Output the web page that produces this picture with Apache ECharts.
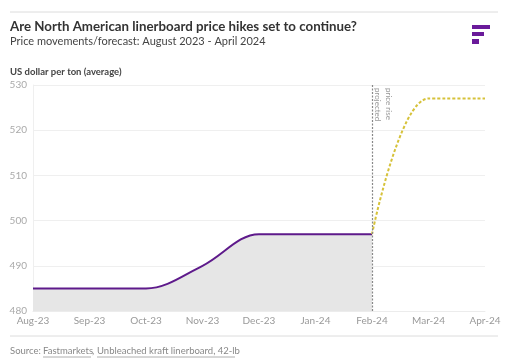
<!DOCTYPE html>
<html>
<head>
<meta charset="utf-8">
<script src="https://cdn.jsdelivr.net/npm/echarts@6/dist/echarts.min.js"></script>
<style>
html,body{margin:0;padding:0;background:#fff;}
#c{width:517px;height:363px;}
</style>
</head>
<body>
<div id="c"></div>
<script>
var categories = ['Aug-23','Sep-23','Oct-23','Nov-23','Dec-23','Jan-24','Feb-24','Mar-24','Apr-24'];
var actualPrice = [485, 485, 485, 490, 497, 497, 497, null, null];
var forecastPrice = [null, null, null, null, null, null, 497, 527, 527];
var yTicks = {min: 480, max: 530, interval: 10};

var FONT = 'Lato, "Open Sans", sans-serif';
var chart = echarts.init(document.getElementById('c'));
chart.setOption({
  animation: false,
  backgroundColor: '#fff',
  grid: {left: 33, right: 32, top: 85, bottom: 52},
  xAxis: {
    type: 'category',
    data: categories,
    boundaryGap: false,
    axisLine: {show: true, lineStyle: {color: '#ececec'}},
    axisTick: {show: false},
    axisLabel: {color: '#999', fontSize: 10, fontFamily: FONT, margin: 5},
    splitLine: {show: false}
  },
  yAxis: {
    type: 'value',
    min: yTicks.min, max: yTicks.max, interval: yTicks.interval,
    axisLine: {show: true, lineStyle: {color: '#efefef'}},
    axisTick: {show: false},
    axisLabel: {color: '#aaa', fontSize: 10, fontFamily: FONT, margin: 6},
    splitLine: {lineStyle: {color: '#efefef'}}
  },
  series: [
    {
      type: 'line',
      data: actualPrice,
      smooth: 0.35,
      symbol: 'none',
      lineStyle: {color: '#5e1a8b', width: 2},
      itemStyle: {color: '#5e1a8b'},
      areaStyle: {color: '#e6e6e6', opacity: 1, origin: 'start'},
      z: 3,
      markLine: {
        silent: true,
        symbol: 'none',
        label: {show: false},
        lineStyle: {color: '#888', type: [2, 1.5], width: 1.2},
        data: [{xAxis: 'Feb-24'}]
      }
    },
    {
      type: 'line',
      data: forecastPrice,
      smooth: 0.35,
      symbol: 'none',
      lineStyle: {color: '#d6c23a', width: 2, type: [3, 2]},
      itemStyle: {color: '#d6c23a'},
      z: 4
    }
  ],
  graphic: [
    {type: 'line', shape: {x1: 10, y1: 12, x2: 498, y2: 12}, style: {stroke: '#dcdcdc', lineWidth: 1}},
    {type: 'text', x: 10, y: 20, style: {text: 'Are North American linerboard price hikes set to continue?', fill: '#333', font: 'bold 13.3px ' + FONT}},
    {type: 'text', x: 10, y: 36, style: {text: 'Price movements/forecast: August 2023 - April 2024', fill: '#444', font: '11px ' + FONT}},
    {type: 'rect', shape: {x: 472, y: 25, width: 18, height: 4}, style: {fill: '#6a1a9a'}},
    {type: 'rect', shape: {x: 472, y: 32, width: 12, height: 4}, style: {fill: '#6a1a9a'}},
    {type: 'rect', shape: {x: 472, y: 39, width: 7, height: 5}, style: {fill: '#6a1a9a'}},
    {type: 'text', x: 10, y: 67, style: {text: 'US dollar per ton (average)', fill: '#444', font: 'bold 9.5px ' + FONT}},
    {type: 'text', x: 378, y: 88, rotation: -Math.PI / 2, style: {text: 'projected', fill: '#999', font: '8px ' + FONT, align: 'left', verticalAlign: 'middle'}},
    {type: 'text', x: 389, y: 88, rotation: -Math.PI / 2, style: {text: 'price rise', fill: '#999', font: '8px ' + FONT, align: 'left', verticalAlign: 'middle'}},
    {type: 'line', shape: {x1: 10, y1: 336, x2: 498, y2: 336}, style: {stroke: '#dcdcdc', lineWidth: 1}},
    {type: 'text', x: 10, y: 346, style: {text: 'Source: ', fill: '#888', font: '9.5px ' + FONT}},
    {type: 'text', x: 43, y: 346, style: {text: 'Fastmarkets', fill: '#888', font: '9.5px ' + FONT}},
    {type: 'text', x: 92, y: 346, style: {text: ',', fill: '#888', font: '9.5px ' + FONT}},
    {type: 'text', x: 97, y: 346, style: {text: 'Unbleached kraft linerboard, 42-lb', fill: '#888', font: '9.5px ' + FONT}},
    {type: 'line', shape: {x1: 43, y1: 357, x2: 91, y2: 357}, style: {stroke: '#999', lineWidth: 0.8}},
    {type: 'line', shape: {x1: 97, y1: 357, x2: 235, y2: 357}, style: {stroke: '#999', lineWidth: 0.8}}
  ]
});
</script>
</body>
</html>
